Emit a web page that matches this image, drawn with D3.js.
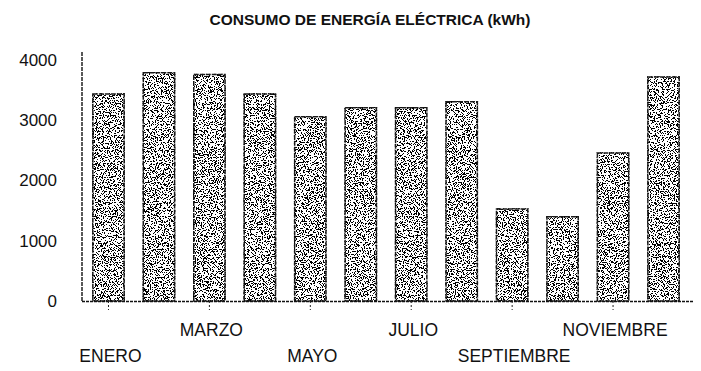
<!DOCTYPE html>
<html>
<head>
<meta charset="utf-8">
<script src="https://cdn.jsdelivr.net/npm/d3@7"></script>
<style>
  html, body { margin: 0; padding: 0; background: #fff; }
  svg { display: block; }
  text { font-family: "Liberation Sans", Arial, sans-serif; fill: #111; }
</style>
</head>
<body>
<svg id="chart" width="701" height="371"></svg>
<script>
// Monthly electricity consumption (kWh)
const months = ["ENERO", "FEBRERO", "MARZO", "ABRIL", "MAYO", "JUNIO",
                "JULIO", "AGOSTO", "SEPTIEMBRE", "OCTUBRE", "NOVIEMBRE", "DICIEMBRE"];
const consumo = [3450, 3800, 3770, 3450, 3070, 3220, 3220, 3320, 1540, 1410, 2470, 3730];
const yTicks = [0, 1000, 2000, 3000, 4000];
const labeledMonths = ["ENERO", "MARZO", "MAYO", "JULIO", "SEPTIEMBRE", "NOVIEMBRE"];
const titulo = "CONSUMO DE ENERGÍA ELÉCTRICA (kWh)";

const svg = d3.select("#chart");
const left = 82, right = 690, base = 301;

const x = d3.scaleBand().domain(months).range([left, right])
  .paddingInner(0.35).paddingOuter(0.2);
const y = d3.scaleLinear().domain([0, 4000]).range([base, 60]);

// stippled fill: thresholded noise gives black specks on white
const defs = svg.append("defs");
const f = defs.append("filter").attr("id", "stipple")
  .attr("x", 0).attr("y", 0).attr("width", 1).attr("height", 1);
f.append("feTurbulence").attr("type", "fractalNoise")
  .attr("baseFrequency", 0.85).attr("numOctaves", 2).attr("seed", 7).attr("result", "noise");
f.append("feColorMatrix").attr("in", "noise").attr("type", "matrix")
  .attr("values", "0 0 0 0 0  0 0 0 0 0  0 0 0 0 0  1 0 0 0 0").attr("result", "na");
const ct = f.append("feComponentTransfer").attr("in", "na").attr("result", "mask");
ct.append("feFuncA").attr("type", "discrete")
  .attr("tableValues", d3.range(40).map(i => i >= 22 ? 1 : 0).join(" "));
f.append("feFlood").attr("flood-color", "#000").attr("result", "ink");
f.append("feComposite").attr("in", "ink").attr("in2", "mask").attr("operator", "in").attr("result", "dots");
f.append("feComposite").attr("in", "dots").attr("in2", "SourceAlpha").attr("operator", "in");

// title
svg.append("text")
  .attr("x", 370).attr("y", 25)
  .attr("text-anchor", "middle")
  .attr("font-size", 15.5).attr("font-weight", "bold")
  .text(titulo);

// bars: white body, speckle layer, dark outline
const bars = svg.append("g");
bars.selectAll("rect.body").data(consumo).join("rect")
  .attr("class", "body")
  .attr("x", (d, i) => x(months[i])).attr("width", x.bandwidth())
  .attr("y", d => y(d)).attr("height", d => y(0) - y(d))
  .attr("fill", "#fff");
bars.selectAll("rect.dots").data(consumo).join("rect")
  .attr("class", "dots")
  .attr("x", (d, i) => x(months[i])).attr("width", x.bandwidth())
  .attr("y", d => y(d)).attr("height", d => y(0) - y(d))
  .attr("fill", "#000")
  .attr("filter", "url(#stipple)");
bars.selectAll("rect.edge").data(consumo).join("rect")
  .attr("class", "edge")
  .attr("x", (d, i) => x(months[i]) + 0.75).attr("width", x.bandwidth() - 1.5)
  .attr("y", d => y(d) + 0.75).attr("height", d => y(0) - y(d) - 0.75)
  .attr("fill", "none").attr("stroke", "#1a1a1a").attr("stroke-width", 1.5)
  .attr("stroke-dasharray", "5,1");

// value axis
const yAxis = svg.append("g").attr("transform", `translate(${left},0)`)
  .call(d3.axisLeft(y).tickValues(yTicks).tickSize(0).tickPadding(25).tickFormat(d3.format("d")));
yAxis.select(".domain").remove();
yAxis.selectAll("text").attr("font-size", 17).attr("font-family", "Liberation Sans, Arial, sans-serif");
svg.append("line")
  .attr("x1", left).attr("x2", left).attr("y1", 52).attr("y2", base)
  .attr("stroke", "#111").attr("stroke-width", 1.4).attr("stroke-dasharray", "4,1");

// category axis: ticks under every other month, labels staggered in two rows
const xAxis = svg.append("g").attr("transform", `translate(0,${base})`)
  .call(d3.axisBottom(x).tickValues(labeledMonths).tickSize(9).tickFormat(""));
xAxis.select(".domain").attr("d", `M${left},0.5H${right + 3}`)
  .attr("stroke", "#111").attr("stroke-width", 1.3).attr("stroke-dasharray", "3,1");
xAxis.selectAll(".tick line").attr("stroke", "#222").attr("stroke-dasharray", "2,2");

svg.append("g").selectAll("text").data(labeledMonths).join("text")
  .attr("x", d => x(d) + x.bandwidth() / 2 + 2)
  .attr("y", (d, i) => i % 2 === 0 ? 362 : 336)
  .attr("text-anchor", "middle")
  .attr("font-size", 17.5)
  .text(d => d);
</script>
</body>
</html>
